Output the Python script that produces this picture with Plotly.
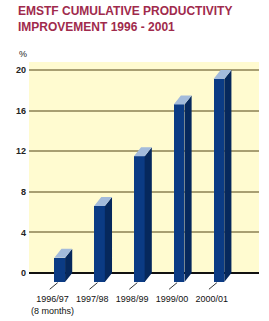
import plotly.graph_objects as go

categories = ["1996/97<br>(8 months)", "1997/98", "1998/99", "1999/00", "2000/01"]
values = [2.4, 7.5, 12.4, 17.5, 20.0]
y_ticks = [0, 4, 8, 12, 16, 20]

# 3D bar geometry (in axis units)
W = 0.135   # half width of front face
DX = 0.18   # depth offset in x
DY = 0.89   # depth offset in y

pos = list(range(len(categories)))

FRONT = "#0b3b84"
SIDE = "#06285c"
TOP = "#a3bbdb"

fig = go.Figure()

# front faces
fig.add_trace(go.Bar(
    x=pos, y=values, base=[-DY] * len(values), width=2 * W,
    marker=dict(color=FRONT, line=dict(width=0)), hoverinfo="skip", showlegend=False,
))

# side faces
sx, sy = [], []
for c, v in zip(pos, values):
    sx += [c + W, c + W + DX, c + W + DX, c + W, c + W, None]
    sy += [-DY, 0, v, v - DY, -DY, None]
fig.add_trace(go.Scatter(x=sx, y=sy, mode="lines", fill="toself", fillcolor=SIDE,
                         line=dict(width=0, color=SIDE), hoverinfo="skip", showlegend=False))

# top faces
tx, ty = [], []
for c, v in zip(pos, values):
    tx += [c - W, c + W, c + W + DX, c - W + DX, c - W, None]
    ty += [v - DY, v - DY, v, v, v - DY, None]
fig.add_trace(go.Scatter(x=tx, y=ty, mode="lines", fill="toself", fillcolor=TOP,
                         line=dict(width=0, color=TOP), hoverinfo="skip", showlegend=False))

# leader lines
lx, ly = [], []
for c in pos:
    lx += [c - 0.05, c - 0.25, None]
    ly += [-DY - 0.06, -1.6, None]
fig.add_trace(go.Scatter(x=lx, y=ly, mode="lines", line=dict(width=1, color="#333333"),
                         hoverinfo="skip", showlegend=False))

PLOT_T, PLOT_H, PLOT_L, PLOT_W = 62, 230, 29, 230

fig.update_layout(
    width=269, height=321,
    margin=dict(l=PLOT_L, r=10, t=PLOT_T, b=29, autoexpand=False),
    paper_bgcolor="white", plot_bgcolor="white",
    xaxis=dict(range=[-0.771, 5.008], tickvals=[c - 0.18 for c in pos], ticktext=categories,
               showgrid=False, zeroline=False, showline=False, ticks="", automargin=False,
               tickfont=dict(family="Liberation Sans", size=9, color="#111111")),
    yaxis=dict(range=[-1.87, 20.79], tickvals=y_ticks, showgrid=True, automargin=False,
               gridcolor="#a89f72", gridwidth=1.5,
               zeroline=True, zerolinecolor="#111111", zerolinewidth=2,
               showline=False, ticks="", ticklabelstandoff=2,
               tickfont=dict(family="Liberation Sans", size=9, color="#222222", weight="bold")),
    shapes=[dict(type="rect", xref="paper", yref="y", x0=0, x1=1, y0=0, y1=20.79,
                 fillcolor="#fffbd0", line=dict(width=0), layer="below")],
    annotations=[
        dict(text="EMSTF CUMULATIVE PRODUCTIVITY<br>IMPROVEMENT 1996 - 2001",
             xref="paper", yref="paper", x=(16 - PLOT_L) / PLOT_W, y=1 + (PLOT_T - 2) / PLOT_H,
             xanchor="left", yanchor="top", align="left", showarrow=False,
             font=dict(family="Liberation Sans", size=12, color="#a02a4c", weight="bold")),
        dict(text="%", xref="paper", yref="paper", x=(22.5 - PLOT_L) / PLOT_W,
             y=1 + (PLOT_T - 53.5) / PLOT_H, xanchor="center", yanchor="middle",
             showarrow=False, font=dict(family="Liberation Sans", size=9, color="#222222")),
    ],
    bargap=0,
)

fig.write_html("out.html")
